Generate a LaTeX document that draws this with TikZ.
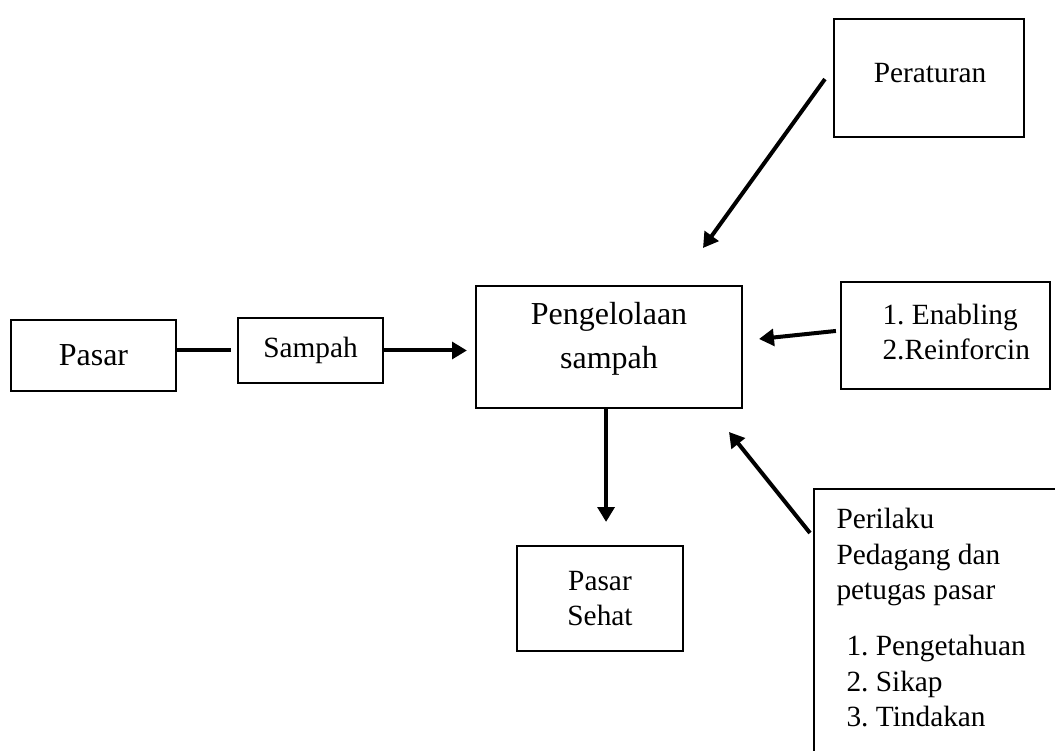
\documentclass[tikz,border=0pt]{standalone}
\usepackage{fontspec}
\setmainfont{Liberation Serif}
\usetikzlibrary{arrows.meta}
\frenchspacing

\begin{document}
\begin{tikzpicture}
    [x=0.375pt,y=-0.375pt,
      font=\fontsize{11}{13.2}\selectfont,
      big/.style={font=\fontsize{12}{16.5}\selectfont},
      box/.style={rectangle,draw=black,line width=0.8pt,inner sep=0pt,align=center},
      link/.style={line width=1.5pt},
      flow/.style={link,-{Triangle[length=5.6pt,width=6.3pt]}}
    ]
    \useasboundingbox (0,0) rectangle (1055,751);
    \clip (0,0) rectangle (1055,751);

    \node [box,big,minimum width=61.9pt,minimum height=26.6pt] (pasar) at (93.5,355.5) {Pasar};
    \node [box,minimum width=54.4pt,minimum height=24.4pt] (sampah) at (310.5,350.5) {Sampah};
    \node [box,minimum width=99.75pt,minimum height=45.75pt] (mgmt) at (609,347) {};
    \node [big,align=center,inner sep=0pt] (mgmtText) at (609,339)
      {Pengelolaan\\sampah};
    \node [box,minimum width=71.25pt,minimum height=44.25pt] (rules) at (929,78) {};
    \node [inner sep=0pt] (rulesText) at (930,73) {Peraturan};
    \node [box,minimum width=78.4pt,minimum height=40.1pt] (factors) at (945.5,335.5) {};
    \node [align=left,inner sep=0pt,anchor=west] (factorsText) at (882,332)
      {1. Enabling\\2.Reinforcin};
    \node [box,minimum width=62.25pt,minimum height=39.4pt] (sehat) at (600,598.5) {Pasar\\Sehat};
    \node [box,minimum width=111pt,minimum height=116.6pt] (behave) at (962,644.5) {};
    \node [align=left,inner sep=0pt,anchor=north west] (behaveText) at (836,508)
      {Perilaku\\Pedagang dan\\petugas pasar\\[8pt]
       \hspace*{3.75pt}1. Pengetahuan\\\hspace*{3.75pt}2. Sikap\\\hspace*{3.75pt}3. Tindakan};

    \coordinate (rulesTip) at (703,248);
    \coordinate (factorsTip) at (759,339);
    \coordinate (behaveFrom) at (810,533);
    \coordinate (behaveTip) at (729,432);

    \draw [link] (pasar.east |- sampah) -- ([xshift=-2.25pt]sampah.west);
    \draw [flow] (sampah.east) -- ([xshift=-3pt]mgmt.west |- sampah);
    \draw [flow] ([xshift=-3pt,yshift=-0.4pt]rules.west) -- (rulesTip);
    \draw [flow] ([xshift=-1.5pt,yshift=1.7pt]factors.west) -- (factorsTip);
    \draw [flow] (behaveFrom) -- (behaveTip);
    \draw [flow] ([xshift=-1.1pt]mgmt.south) -- ([xshift=-1.1pt,yshift=8.6pt]sehat.north -| mgmt.south);
  \end{tikzpicture}
\end{document}
